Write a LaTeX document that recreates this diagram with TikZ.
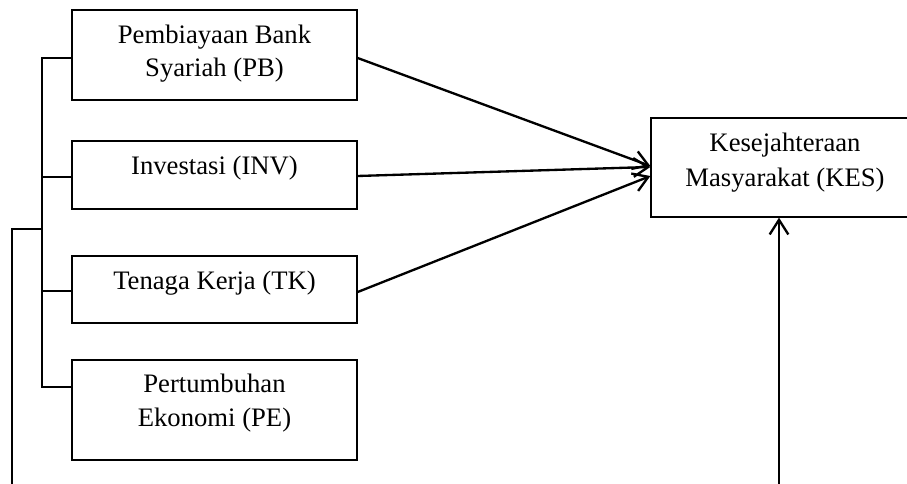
\documentclass[tikz,border=0pt]{standalone}
\usepackage{fontspec}
\setmainfont{Liberation Serif}
\usetikzlibrary{arrows.meta}
\begin{document}
\begin{tikzpicture}[x=0.75pt, y=-0.75pt,
  box/.style={draw, line width=0.95pt, inner sep=0pt},
  label/.style={anchor=north, inner sep=0pt, align=center,
    font=\fontsize{20pt}{25pt}\selectfont},
  thin/.style={line width=0.9pt},
  arr/.style={line width=1.75pt, -{Straight Barb[length=11pt, width=14pt]}}]
\useasboundingbox (0,0) rectangle (907,484);
\clip (0,0) rectangle (907,484);

% variable boxes
\node[box, minimum width=213.75pt, minimum height=67.5pt] (pb)  at (214.5,55)  {};
\node[box, minimum width=213.75pt, minimum height=51pt]   (inv) at (214.5,175) {};
\node[box, minimum width=213.75pt, minimum height=50.25pt] (tk) at (214.5,289.5) {};
\node[box, minimum width=213.75pt, minimum height=75pt]   (pe)  at (214.5,410) {};
\node[box, minimum width=201pt,    minimum height=74.25pt] (kes) at (785,167.5) {};

% box texts, set from the top of each box
\node[label] (pbt)  at ([yshift=-11.5pt]pb.north)  {Pembiayaan Bank\\Syariah (PB)};
\node[label] (invt) at ([yshift=-11.5pt]inv.north) {Investasi (INV)};
\node[label] (tkt)  at ([yshift=-11.5pt]tk.north)  {Tenaga Kerja (TK)};
\node[label] (pet)  at ([yshift=-11pt]pe.north)    {Pertumbuhan\\Ekonomi (PE)};
\node[label, font=\fontsize{20pt}{26pt}\selectfont] (kest) at ([yshift=-11.5pt]kes.north) {Kesejahteraan\\Masyarakat (KES)};

% bracket joining the four variables
\coordinate (b1) at (42,58);
\coordinate (b2) at (42,177);
\coordinate (b3) at (42,291);
\coordinate (b4) at (42,387);
\coordinate (bm) at (42,229);
\coordinate (o1) at (12,229);
\coordinate (o0) at (12,484);
\draw[thin] (pb.west |- b1) -- (b1) -- (b4) -- (pe.west |- b4);
\draw[thin] (b2) -- (inv.west |- b2);
\draw[thin] (b3) -- (tk.west |- b3);
\draw[thin] (o0) -- (o1) -- (bm);

% direct effects
\draw[arr] ([yshift=-2.25pt]pb.east) -- ([yshift=1.1pt]kes.west);
\draw[arr] ([yshift=-0.75pt]inv.east) -- ([yshift=0.4pt]kes.west);
\draw[arr] ([yshift=-1.9pt]tk.east) -- ([yshift=-6.4pt]kes.west);

% path entering from below
\coordinate (v0) at (779,484);
\draw[arr] (v0) -- (v0 |- kes.south);
\end{tikzpicture}
\end{document}
